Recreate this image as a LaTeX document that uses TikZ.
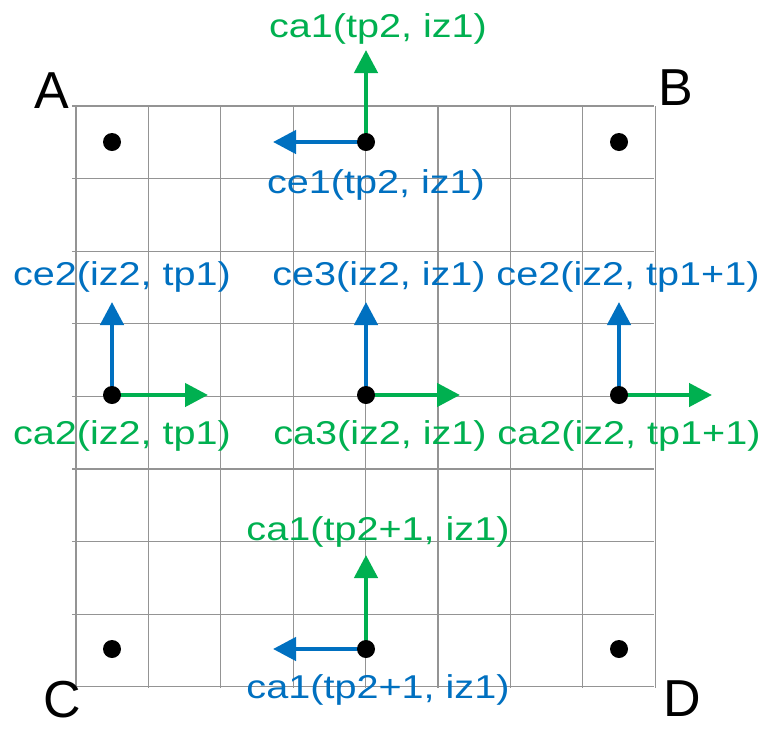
\documentclass[tikz,border=0pt]{standalone}
\usepackage{fontspec}
\setmainfont{Liberation Sans}
\newfontfamily\lblfont[FakeStretch=1.2]{Liberation Sans}
\usetikzlibrary{arrows.meta}
\definecolor{eblue}{RGB}{0,112,192}
\definecolor{agreen}{RGB}{0,176,80}

\begin{document}
\begin{tikzpicture}[x=1pt,y=-1pt,
            gridline/.style={draw=black!42,line width=1.1pt},
            pt/.style={circle,fill=black,inner sep=0pt,minimum size=18pt},
            vec/.style={line width=4.5pt,-{Triangle[length=23pt,width=23pt]}},
            lbl/.style={anchor=base,inner sep=0pt,font=\lblfont\fontsize{33}{36}\selectfont},
            corner/.style={anchor=base,inner sep=0pt,font=\fontsize{52}{56}\selectfont}]
  \useasboundingbox (0,0) rectangle (766,729);
  % grid
  \foreach \i in {0,...,8} {
    \draw[gridline] ({76+72.4*\i},106) -- ({76+72.4*\i},688);
    \draw[gridline] (72,{106+72.6*\i}) -- (654,{106+72.6*\i});
  }
  % points
  \coordinate (p1) at (112,142);
  \coordinate (p2) at (366,142);
  \coordinate (p3) at (619,142);
  \coordinate (p4) at (112,395);
  \coordinate (p5) at (366,395);
  \coordinate (p6) at (619,395);
  \coordinate (p7) at (112,649);
  \coordinate (p8) at (366,649);
  \coordinate (p9) at (619,649);
  % arrow ends
  \coordinate (e2a) at (366,50);
  \coordinate (e2e) at (273,142);
  \coordinate (e4e) at (112,302);
  \coordinate (e4a) at (208,395);
  \coordinate (e5e) at (366,302);
  \coordinate (e5a) at (460,395);
  \coordinate (e6e) at (619,302);
  \coordinate (e6a) at (712,395);
  \coordinate (e8a) at (366,555);
  \coordinate (e8e) at (273,649);
  % arrows
  \draw[vec,agreen] (p2) -- (e2a);
  \draw[vec,eblue] (p2) -- (e2e);
  \draw[vec,eblue] (p4) -- (e4e);
  \draw[vec,agreen] (p4) -- (e4a);
  \draw[vec,eblue] (p5) -- (e5e);
  \draw[vec,agreen] (p5) -- (e5a);
  \draw[vec,eblue] (p6) -- (e6e);
  \draw[vec,agreen] (p6) -- (e6a);
  \draw[vec,agreen] (p8) -- (e8a);
  \draw[vec,eblue] (p8) -- (e8e);
  \foreach \p in {1,...,9}
    \node[pt] (d\p) at (p\p) {};
  % labels
  \node[lbl,agreen] (ca1top) at (378,37) {ca1(tp2, iz1)};
  \node[lbl,eblue] (ce1top) at (376,193) {ce1(tp2, iz1)};
  \node[lbl,eblue] (ce2left) at (122,285) {ce2(iz2, tp1)};
  \node[lbl,eblue] (ce3mid) at (379,285) {ce3(iz2, iz1)};
  \node[lbl,eblue] (ce2right) at (628,285) {ce2(iz2, tp1+1)};
  \node[lbl,agreen] (ca2left) at (122,444) {ca2(iz2, tp1)};
  \node[lbl,agreen] (ca3mid) at (380,444) {ca3(iz2, iz1)};
  \node[lbl,agreen] (ca2right) at (629,444) {ca2(iz2, tp1+1)};
  \node[lbl,agreen] (ca1bot) at (378,540) {ca1(tp2+1, iz1)};
  \node[lbl,eblue] (ce1bot) at (378,698) {ca1(tp2+1, iz1)};
  % corners
  \node[corner] (cA) at (52,108) {A};
  \node[corner] (cB) at (676,105) {B};
  \node[corner] (cC) at (62,717) {C};
  \node[corner] (cD) at (682,716) {D};
\end{tikzpicture}
\end{document}
